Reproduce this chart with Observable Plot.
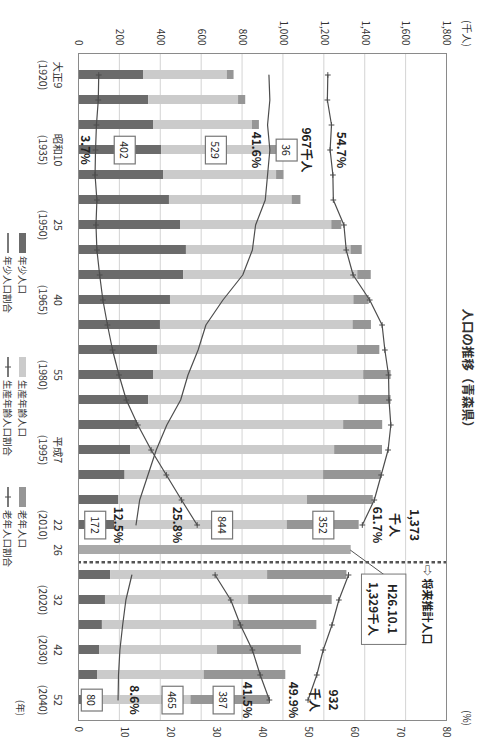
<!DOCTYPE html>
<html><head><meta charset="utf-8">
<script src="https://cdn.jsdelivr.net/npm/d3@7"></script>
<script src="https://cdn.jsdelivr.net/npm/@observablehq/plot@0.6"></script>
<style>
html,body{margin:0;padding:0;background:#fff;overflow:hidden;width:477px;height:742px;}
#wrap{position:absolute;left:0;top:0;width:742px;height:477px;transform-origin:0 0;transform:translateX(477px) rotate(90deg);font-family:"Noto Sans CJK JP",sans-serif;color:#333;background:#fff;}
#title{height:16px;line-height:18px;text-align:center;font-size:12.5px;font-weight:bold;position:relative;}
.unit{position:absolute;top:4px;font-size:10px;font-weight:normal;line-height:12px;}
#legend{position:relative;height:37px;font-size:9.5px;}
.li{position:absolute;display:flex;align-items:center;height:12px;white-space:nowrap;}
.sw{display:inline-block;width:20px;height:7px;margin-right:3px;}
.ln{display:inline-block;width:20px;height:12px;margin-right:3px;}
</style></head><body>
<div id="wrap">
  <div id="title">人口の推移（青森県）<span class="unit" style="left:20px">(千人)</span><span class="unit" style="left:710px">(%)</span></div>
  <div id="chart"></div>
  <div id="legend"></div>
</div>
<script>
const categories = ["1920","1925","1930","1935","1940","1945","1950","1955","1960","1965","1970","1975","1980","1985","1990","1995","2000","2005","2010","2014","2015","2020","2025","2030","2035","2040"];
const eraLabels = {"1920":"大正9","1935":"昭和10","1950":"25","1965":"40","1980":"55","1995":"平成7","2010":"22","2014":"26","2020":"32","2030":"42","2040":"52"};
const yearLabels = {"1920":"(1920)","1935":"(1935)","1950":"(1950)","1965":"(1965)","1980":"(1980)","1995":"(1995)","2010":"(2010)","2020":"(2020)","2030":"(2030)","2040":"(2040)"};
// population (thousand persons)
const totals  = [756,813,880,967,1000,1083,1283,1383,1427,1417,1428,1469,1524,1524,1483,1482,1476,1437,1373,1329,1308,1236,1161,1085,1009,932];
const youth   = [313,338,362,402,411,440,494,523,509,445,396,382,362,338,284,251,223,191,172,null,152,127,112,98,88,80];
const working = [410,440,484,529,553,600,740,805,852,897,942,978,1028,1028,1008,997,971,924,844,null,768,700,640,577,522,465];
const elderly = [33,35,34,36,36,43,49,55,66,75,90,109,134,158,191,234,282,322,352,null,388,409,409,410,399,387];
// shares (%)
const youthPct   = [41.4,41.6,41.1,41.6,41.1,40.6,38.5,37.8,35.7,31.4,27.7,26.0,23.8,22.2,19.2,16.9,15.1,13.3,12.5,null,11.6,10.3,9.6,9.0,8.7,8.6];
const workingPct = [54.2,54.1,55.0,54.7,55.3,55.4,57.7,58.2,59.7,63.3,66.0,66.6,67.4,67.5,67.9,67.3,65.8,64.3,61.7,null,58.7,56.6,55.1,53.2,51.8,49.9];
const elderlyPct = [4.4,4.3,3.9,3.7,3.6,4.0,3.8,4.0,4.6,5.3,6.3,7.4,8.8,10.4,12.9,15.8,19.1,22.4,25.8,null,29.7,33.1,35.2,37.8,39.5,41.5];
const popTicks = [0,200,400,600,800,1000,1200,1400,1600,1800];
const pctTicks = [0,10,20,30,40,50,60,70,80];
const groups = ["年少人口","生産年齢人口","老年人口","推計"];
const groupColors = ["#6b6b6b","#cbcbcb","#969696","#a9a9a9"];
const lineNames = ["年少人口割合","生産年齢人口割合","老年人口割合"];

const PCT = 1800 / 80; // % -> population units on shared axis
const idx = c => categories.indexOf(c);

const barRows = [];
categories.forEach((c, i) => {
  if (youth[i] == null) barRows.push({c, g: "推計", v: totals[i]});
  else barRows.push({c, g: "年少人口", v: youth[i]}, {c, g: "生産年齢人口", v: working[i]}, {c, g: "老年人口", v: elderly[i]});
});
const lineRows = [];
[["y", youthPct], ["w", workingPct], ["e", elderlyPct]].forEach(([s, arr]) => {
  arr.forEach((p, i) => { if (p != null) lineRows.push({c: categories[i], s, seg: i < 19 ? "p" : "f", v: p * PCT}); });
});

const lineColor = "#4d4d4d";
const bold = {fontWeight: "bold", fontSize: 12, fill: "#222"};

function pctNote(c, arr, dy) {
  const i = idx(c);
  return Plot.text([arr[i]], {x: () => c, y: d => d * PCT, text: d => d.toFixed(1) + "%", dy, ...bold});
}
function boxNote(c, series, dy) {
  const i = idx(c);
  const segs = {y: [0, youth[i]], w: [youth[i], youth[i] + working[i]], e: [youth[i] + working[i], youth[i] + working[i] + elderly[i]]};
  const [a, b] = segs[series];
  return Plot.text([{v: b - a, mid: (a + b) / 2}], {x: () => c, y: "mid", text: d => String(d.v), dy, className: "boxlbl", fontSize: 10.5, fill: "#222"});
}
function totalNote(c, dy, twoLine) {
  const i = idx(c);
  return Plot.text([totals[i]], {x: () => c, y: d => d, text: d => d3.format(",")(d) + (twoLine ? "\n" : "") + "千人", dy, lineAnchor: "middle", lineHeight: 1.6, ...bold});
}

const chart = Plot.plot({
  width: 742, height: 424,
  marginTop: 14, marginBottom: 42, marginLeft: 53, marginRight: 22,
  style: {fontFamily: '"Noto Sans CJK JP", sans-serif', fontSize: "10px", color: "#333", background: "white"},
  x: {type: "band", domain: categories, paddingInner: 0.645, paddingOuter: 0.48, axis: null},
  y: {domain: [0, 1800], axis: null},
  color: {domain: groups, range: groupColors},
  marks: [
    Plot.gridY(popTicks.filter(t => t > 0 && t < 1800), {stroke: "#c8c8c8", strokeOpacity: 1, strokeWidth: 0.8}),
    Plot.barY(barRows, {x: "c", y: "v", fill: "g"}),
    Plot.line(lineRows, {x: "c", y: "v", z: d => d.s + d.seg, stroke: lineColor, strokeWidth: 1.2}),
    Plot.dot(lineRows.filter(d => d.s !== "y"), {x: "c", y: "v", symbol: "plus", r: 2, stroke: lineColor, strokeWidth: 1}),
    Plot.ruleX(["2015"], {dx: -12.7, stroke: "#555", strokeWidth: 2.5, strokeDasharray: "3.5,2.5"}),
    Plot.frame({stroke: "#8a8a8a"}),
    Plot.axisY({ticks: popTicks, tickFormat: d3.format(","), tickSize: 0, tickPadding: 8, label: null, fontSize: 10}),
    Plot.axisY({anchor: "right", ticks: pctTicks.map(p => p * PCT), tickFormat: d => String(Math.round(d / PCT)), tickSize: 0, tickPadding: 6, label: null, fontSize: 10}),
    Plot.axisX({tickSize: 0, tickPadding: 14, label: null, fontSize: 10.5, lineHeight: 1.4,
      tickFormat: d => eraLabels[d] ? eraLabels[d] + (yearLabels[d] ? "\n" + yearLabels[d] : "") : ""}),
    // 1935 annotations
    pctNote("1935", youthPct, 14), pctNote("1935", workingPct, -11), pctNote("1935", elderlyPct, 11),
    boxNote("1935", "y", -4), boxNote("1935", "w", 0), boxNote("1935", "e", -13),
    totalNote("1935", -32, false),
    // 2010 annotations
    pctNote("2010", youthPct, 18), pctNote("2010", elderlyPct, 20), pctNote("2010", workingPct, -15),
    boxNote("2010", "y", 2), boxNote("2010", "w", -21), boxNote("2010", "e", 0),
    totalNote("2010", -47, true),
    // 2040 annotations
    pctNote("2040", youthPct, -16), pctNote("2040", elderlyPct, 23), pctNote("2040", workingPct, 15),
    boxNote("2040", "y", -4), boxNote("2040", "w", -29), boxNote("2040", "e", 7),
    totalNote("2040", -57, true),
    // estimate callout
    Plot.link([totals[idx("2014")]], {x1: () => "2014", y1: d => d, x2: () => "2015", y2: () => 1497, stroke: "#555", strokeWidth: 1}),
    Plot.text(["H26.10.1\n" + d3.format(",")(totals[idx("2014")]) + "千人"], {x: () => "2020", y: () => 1497, dx: 9, lineAnchor: "middle", lineHeight: 1.6, className: "boxbig", ...bold, fontSize: 11.5}),
    Plot.text(["⇨ 将来推計人口"], {x: () => "2015", frameAnchor: "top", dy: 16, dx: -10, textAnchor: "start", fontWeight: "bold", fontSize: 11, fill: "#222"})
  ]
});
document.getElementById("chart").appendChild(chart);

// draw boxes behind boxed labels
function boxify(sel, px, py, strokeW) {
  chart.querySelectorAll(sel).forEach(t => {
    const b = t.getBBox();
    const r = document.createElementNS("http://www.w3.org/2000/svg", "rect");
    r.setAttribute("x", b.x - px); r.setAttribute("y", b.y - py);
    r.setAttribute("width", b.width + 2 * px); r.setAttribute("height", b.height + 2 * py);
    r.setAttribute("fill", "white"); r.setAttribute("stroke", "#777"); r.setAttribute("stroke-width", strokeW);
    if (t.getAttribute("transform")) r.setAttribute("transform", t.getAttribute("transform"));
    t.parentNode.insertBefore(r, t);
  });
}
boxify("g.boxlbl text", 5, 3, 1.2);
boxify("g.boxbig text", 8, 5, 1);

// legend
const leg = document.getElementById("legend");
const colX = [233, 357, 487];
groups.slice(0, 3).forEach((g, i) => {
  const a = document.createElement("div");
  a.className = "li"; a.style.left = colX[i] + "px"; a.style.top = "8px";
  a.innerHTML = `<span class="sw" style="background:${groupColors[i]}"></span>${g}`;
  leg.appendChild(a);
  const b = document.createElement("div");
  b.className = "li"; b.style.left = colX[i] + "px"; b.style.top = "23px";
  const plus = i > 0 ? `<line x1="10" x2="10" y1="3" y2="9" stroke="${lineColor}"/>` : "";
  b.innerHTML = `<svg class="ln" width="20" height="12"><line x1="0" x2="20" y1="6" y2="6" stroke="${lineColor}" stroke-width="1.5"/>${plus}</svg>${lineNames[i]}`;
  leg.appendChild(b);
});
const yr = document.createElement("div");
yr.className = "li"; yr.style.left = "700px"; yr.style.top = "10px"; yr.textContent = "(年)";
leg.appendChild(yr);
</script>
</body></html>
